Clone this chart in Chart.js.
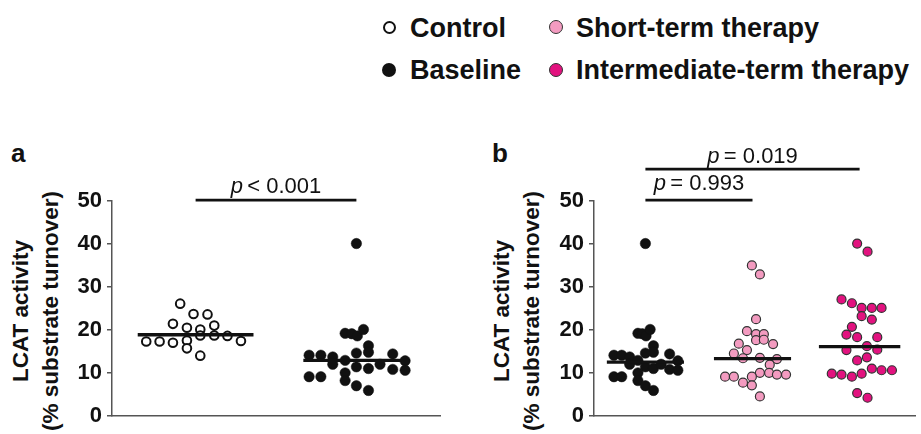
<!DOCTYPE html>
<html><head><meta charset="utf-8">
<script src="https://cdn.jsdelivr.net/npm/chart.js@4.4.1/dist/chart.umd.min.js"></script>
<style>
html,body{margin:0;padding:0;background:#fff;width:921px;height:434px;overflow:hidden;position:relative;font-family:"Liberation Sans",Arial,sans-serif;color:#111;}
.leg{position:absolute;font-weight:bold;font-size:27px;line-height:30px;white-space:nowrap;}
.mk{position:absolute;border-radius:50%;box-sizing:border-box;}
.panel{position:absolute;font-weight:bold;font-size:26px;line-height:30px;}
.ytitle{position:absolute;width:320px;height:28px;line-height:28px;text-align:center;font-weight:bold;font-size:22.5px;transform:rotate(-90deg);white-space:nowrap;}
canvas{position:absolute;}
</style></head>
<body>
<!-- legend -->
<div class="mk" style="left:382.5px;top:20.5px;width:13px;height:13px;border:2px solid #111;background:#fff"></div>
<div class="leg" style="left:410px;top:13px">Control</div>
<div class="mk" style="left:382px;top:63px;width:14px;height:14px;background:#111"></div>
<div class="leg" style="left:410px;top:55px">Baseline</div>
<div class="mk" style="left:549px;top:20px;width:14px;height:14px;background:#F39BC0;border:1.3px solid #333"></div>
<div class="leg" style="left:576px;top:13px">Short-term therapy</div>
<div class="mk" style="left:549px;top:63px;width:14px;height:14px;background:#E2127F;border:1.3px solid #333"></div>
<div class="leg" style="left:576px;top:55px">Intermediate-term therapy</div>

<div class="panel" style="left:11px;top:138px">a</div>
<div class="panel" style="left:492px;top:138px">b</div>

<div class="ytitle" style="left:-139.5px;top:297px">LCAT activity</div>
<div class="ytitle" style="left:-109.5px;top:297px">(% substrate turnover)</div>
<div class="ytitle" style="left:342px;top:297px">LCAT activity</div>
<div class="ytitle" style="left:372px;top:297px">(% substrate turnover)</div>

<canvas id="ca" width="460" height="304" style="left:0px;top:130px"></canvas>
<canvas id="cb" width="439" height="304" style="left:482px;top:130px"></canvas>

<script>
// ---- data ----
const categoriesA = ['Control', 'Baseline'];
const categoriesB = ['Baseline', 'Short-term therapy', 'Intermediate-term therapy'];
const yTickValues = [0, 10, 20, 30, 40, 50];

const controlValues = [26.1, 23.7, 23.6, 21.4, 20.5, 21.0, 20.1, 18.7, 18.7, 18.6, 17.3, 17.3, 17.0, 17.5, 15.7, 14.0, 17.4];
const controlJitter = [-0.096, -0.013, 0.074, -0.141, -0.054, 0.116, 0.029, 0.029, 0.116, 0.198, -0.307, -0.224, -0.141, -0.054, -0.054, 0.029, 0.282];

const baselineValues = [40.1, 19.2, 19.1, 18.6, 20.1, 16.3, 14.8, 14.6, 14.1, 14.1, 13.7, 12.0, 12.9, 11.4, 11.0, 12.0, 14.4, 10.8, 12.8, 10.6, 9.1, 9.1, 10.0, 8.2, 7.0, 5.9];
const baselineJitter = [0, -0.07, -0.029, 0.006, 0.044, 0.075, 0.075, 0, -0.294, -0.221, -0.147, -0.147, -0.07, 0, 0.075, 0.147, 0.226, 0.226, 0.303, 0.303, -0.294, -0.221, -0.07, -0.07, 0, 0.075];

const shortValues = [35.0, 32.9, 22.5, 19.7, 19.0, 19.0, 17.6, 17.7, 16.7, 16.8, 15.3, 14.5, 13.4, 13.5, 13.2, 11.9, 10.0, 10.0, 9.6, 9.6, 9.1, 9.1, 9.1, 7.7, 7.1, 4.5];
const shortJitter = [-0.006, 0.069, 0.033, -0.052, 0.033, 0.106, 0.033, 0.106, 0.192, -0.128, -0.052, -0.174, -0.089, 0.069, 0.228, 0.161, 0.069, 0.155, 0.228, 0.313, -0.256, -0.174, -0.006, -0.089, -0.006, 0.069];

const interValues = [40.1, 38.2, 27.1, 26.2, 25.1, 25.1, 25.1, 23.2, 22.4, 20.7, 18.9, 18.3, 18.3, 15.3, 16.2, 15.4, 12.9, 13.6, 11.0, 10.6, 10.6, 9.8, 9.8, 9.6, 9.1, 5.3, 4.2];
const interJitter = [-0.023, 0.074, -0.169, -0.072, 0.019, 0.114, 0.205, 0.019, 0.114, -0.072, -0.123, -0.023, 0.165, -0.123, 0.068, 0.165, -0.023, 0.068, 0.114, 0.205, 0.302, 0.019, -0.26, -0.169, -0.072, -0.023, 0.074];

const mediansA = [18.85, 12.9];
const mediansB = [12.5, 13.3, 16.1];

const pLabelsA = ['< 0.001'];
const pLabelsB = ['= 0.993', '= 0.019'];

// ---- helpers ----
const FONT = '"Liberation Sans", Arial, sans-serif';
function pts(values, jitter, cat) { return values.map((v, i) => ({ x: cat + jitter[i], y: v })); }
function medianLine(m, cat, half) { return { type: 'line', data: [{ x: cat - half, y: m }, { x: cat + half, y: m }], borderColor: '#111', borderWidth: 3.4, pointRadius: 0, showLine: true, order: 0, clip: false }; }

const bracketPlugin = {
  id: 'brackets',
  afterDraw(chart, args, opts) {
    const { ctx } = chart; const xs = chart.scales.x, ys = chart.scales.y;
    (opts.items || []).forEach(b => {
      const x1 = xs.getPixelForValue(b.from), x2 = xs.getPixelForValue(b.to), yy = ys.getPixelForValue(b.y);
      ctx.save();
      ctx.strokeStyle = '#111'; ctx.lineWidth = 2.8;
      ctx.beginPath(); ctx.moveTo(x1, yy); ctx.lineTo(x2, yy); ctx.stroke();
      ctx.fillStyle = '#111'; ctx.textBaseline = 'alphabetic'; ctx.textAlign = 'left';
      ctx.font = 'italic 22px ' + FONT; const w1 = ctx.measureText('p').width;
      ctx.font = '22px ' + FONT; const rest = '\u2009' + b.label; const w2 = ctx.measureText(rest).width;
      const sx = (x1 + x2) / 2 + (b.dx || 0) - (w1 + w2) / 2;
      ctx.font = 'italic 22px ' + FONT; ctx.fillText('p', sx, yy - b.gap);
      ctx.font = '22px ' + FONT; ctx.fillText(rest, sx + w1, yy - b.gap);
      ctx.restore();
    });
  }
};

function scales(xmin, xmax) {
  return {
    x: { type: 'linear', min: xmin, max: xmax, ticks: { display: false }, grid: { display: false, drawTicks: false }, border: { display: true, color: '#555', width: 1.5 } },
    y: {
      type: 'linear', min: 0, max: 50,
      afterBuildTicks: s => { s.ticks = yTickValues.map(v => ({ value: v })); },
      afterFit: s => { s.width = 112; },
      ticks: { font: { family: FONT, weight: 'bold', size: 22 }, color: '#111', padding: 5 },
      grid: { display: true, drawOnChartArea: false, drawTicks: true, tickLength: 5, color: '#555', lineWidth: 1.5 },
      border: { display: true, color: '#555', width: 1.5 }
    }
  };
}

const common = { responsive: false, animation: false, events: [], };

const ctrlStyle = { pointRadius: 4.3, borderWidth: 2, borderColor: '#111', backgroundColor: '#fff', order: 1 };
const baseStyle = { pointRadius: 5.2, borderWidth: 0.5, borderColor: '#111', backgroundColor: '#111', order: 1 };
const shortStyle = { pointRadius: 4.5, borderWidth: 1.2, borderColor: '#333', backgroundColor: '#F39BC0', order: 1 };
const interStyle = { pointRadius: 4.5, borderWidth: 1.2, borderColor: '#333', backgroundColor: '#E2127F', order: 1 };

new Chart(document.getElementById('ca'), {
  type: 'scatter',
  data: {
    datasets: [
      Object.assign({ label: categoriesA[0], data: pts(controlValues, controlJitter, 1) }, ctrlStyle),
      Object.assign({ label: categoriesA[1], data: pts(baselineValues, baselineJitter, 2) }, baseStyle),
      medianLine(mediansA[0], 1, 0.36),
      medianLine(mediansA[1], 2, 0.33)
    ]
  },
  options: Object.assign({}, common, {
    layout: { padding: { top: 71, right: 20, bottom: 14, left: 0 } },
    scales: scales(0.48, 2.52),
    plugins: { legend: { display: false }, tooltip: { enabled: false },
      brackets: { items: [{ from: 1, to: 2, y: 50.2, gap: 7, label: pLabelsA[0] }] } }
  }),
  plugins: [bracketPlugin]
});

new Chart(document.getElementById('cb'), {
  type: 'scatter',
  data: {
    datasets: [
      Object.assign({ label: categoriesB[0], data: pts(baselineValues, baselineJitter, 1) }, baseStyle),
      Object.assign({ label: categoriesB[1], data: pts(shortValues, shortJitter, 2) }, shortStyle),
      Object.assign({ label: categoriesB[2], data: pts(interValues, interJitter, 3) }, interStyle),
      medianLine(mediansB[0], 1, 0.36),
      medianLine(mediansB[1], 2, 0.36),
      medianLine(mediansB[2], 3, 0.38)
    ]
  },
  options: Object.assign({}, common, {
    layout: { padding: { top: 71, right: 0, bottom: 14, left: 0 } },
    scales: scales(0.52, 3.52),
    plugins: { legend: { display: false }, tooltip: { enabled: false },
      brackets: { items: [
        { from: 1, to: 2, y: 50.2, gap: 10, label: pLabelsB[0] },
        { from: 1, to: 3, y: 57.4, gap: 6.6, label: pLabelsB[1] }
      ] } }
  }),
  plugins: [bracketPlugin]
});
</script>
</body></html>
